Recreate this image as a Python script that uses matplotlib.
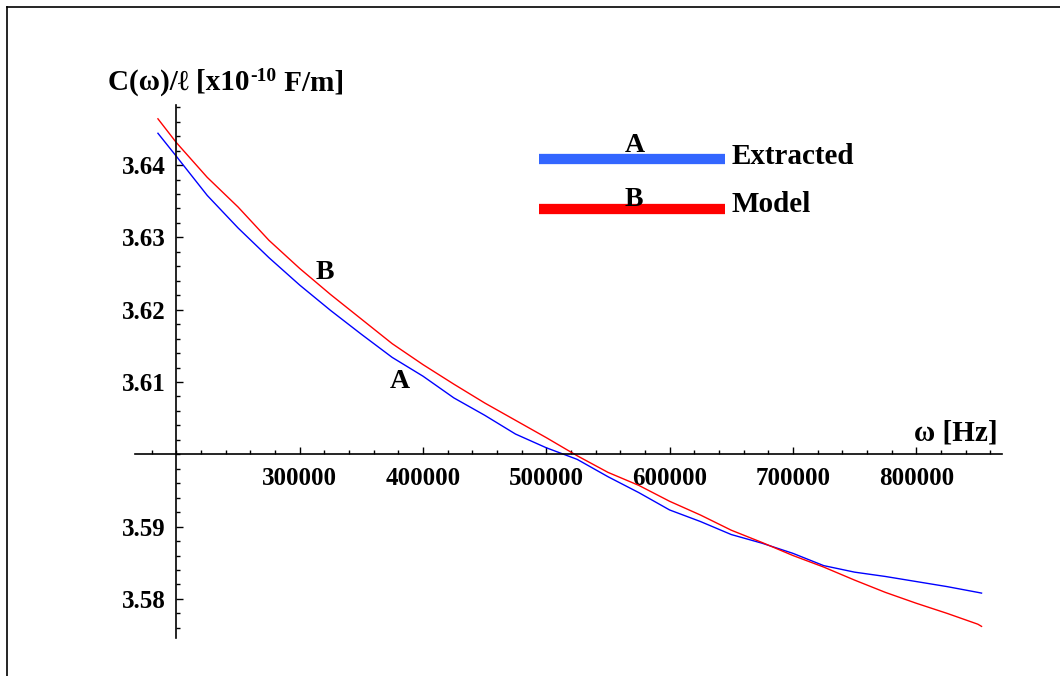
import matplotlib
matplotlib.use("Agg")
import matplotlib.pyplot as plt
from matplotlib.ticker import FixedLocator, MultipleLocator
from matplotlib.lines import Line2D

plt.rcParams['font.family'] = ['Liberation Serif', 'DejaVu Serif']
plt.rcParams['font.weight'] = 'bold'

# frequency [Hz]
omega = [185000, 200000, 225000, 250000, 275000, 300000, 325000, 350000,
         375000, 400000, 425000, 450000, 475000, 500000, 525000, 550000,
         575000, 600000, 625000, 650000, 675000, 700000, 725000, 750000,
         775000, 800000, 825000, 850000, 853000]

# extracted capacitance per length [x1e-10 F/m]
extracted = [3.6444, 3.6412, 3.6358, 3.6313, 3.6272, 3.6234, 3.6199, 3.6166,
             3.6134, 3.6108, 3.6078, 3.6054, 3.6028, 3.6009, 3.5993, 3.5969,
             3.5947, 3.5923, 3.5907, 3.5889, 3.5877, 3.5863, 3.5846, 3.5837,
             3.5831, 3.5824, 3.5817, 3.5809, 3.5808]

# model capacitance per length [x1e-10 F/m]
model = [3.6464, 3.6431, 3.6383, 3.6342, 3.6296, 3.6257, 3.6221, 3.6187,
         3.6153, 3.6124, 3.6097, 3.6071, 3.6047, 3.6023, 3.5998, 3.5975,
         3.5957, 3.5935, 3.5916, 3.5895, 3.5878, 3.5860, 3.5844, 3.5826,
         3.5809, 3.5794, 3.5780, 3.5765, 3.5762]

x_major = [300000, 400000, 500000, 600000, 700000, 800000]
y_major = [3.58, 3.59, 3.61, 3.62, 3.63, 3.64]

W, H = 1060, 676
fig = plt.figure(figsize=(W / 100, H / 100), dpi=100)
ax = fig.add_axes([135 / W, 1 - 638 / H, (1002 - 135) / W, (638 - 105) / H])

ax.plot(omega, extracted, color='#0000ff', lw=1.0)
ax.plot(omega, model, color='#ff0000', lw=1.0)

ax.set_xlim(166400, 869600)
ax.set_ylim(3.57459, 3.64831)

ax.spines['top'].set_visible(False)
ax.spines['right'].set_visible(False)
ax.spines['left'].set_position(('data', 200000))
ax.spines['bottom'].set_position(('data', 3.60))
for s in ('left', 'bottom'):
    ax.spines[s].set_linewidth(1.2)

ax.xaxis.set_major_locator(FixedLocator(x_major))
ax.xaxis.set_minor_locator(MultipleLocator(20000))
ax.yaxis.set_major_locator(FixedLocator(y_major))
ax.yaxis.set_minor_locator(MultipleLocator(0.002))
ax.set_xticklabels([str(v) for v in x_major])
ax.set_yticklabels(['%.2f' % v for v in y_major])

ax.tick_params(which='both', direction='in', width=1.0)
ax.tick_params(which='major', length=5)
ax.tick_params(which='minor', length=3)
ax.tick_params(axis='x', which='major', pad=9, labelsize=18)
ax.tick_params(axis='y', which='major', pad=8, labelsize=18)
for t in ax.get_xticklabels() + ax.get_yticklabels():
    t.set_fontweight('bold')

# curve labels
ax.text(320500, 3.6252, 'B', fontsize=20, fontweight='bold', ha='center', va='center')
ax.text(381300, 3.6101, 'A', fontsize=20, fontweight='bold', ha='center', va='center')

# y axis label, built in pieces so the exponent keeps a plain hyphen
renderer = fig.canvas.get_renderer()
x0, y0 = 108 / W, 1 - 90 / H
t1 = fig.text(x0, y0, 'C(ω)/ℓ [x10', fontsize=21, fontweight='bold',
              ha='left', va='baseline')
x1 = fig.transFigure.inverted().transform(
    (t1.get_window_extent(renderer).x1, 0))[0]
t2 = fig.text(x1 + 1 / W, y0 + 9 / H, '-10', fontsize=14, fontweight='bold',
              ha='left', va='baseline')
x2 = fig.transFigure.inverted().transform(
    (t2.get_window_extent(renderer).x1, 0))[0]
fig.text(x2, y0, ' F/m]', fontsize=21, fontweight='bold',
         ha='left', va='baseline')

fig.text(998 / W, 1 - 441 / H, 'ω [Hz]', fontsize=21, fontweight='bold',
         ha='right', va='baseline')

# legend
fig.add_artist(Line2D([539 / W, 725 / W], [1 - 158.5 / H] * 2, lw=7.4,
                      color='#3366ff', solid_capstyle='butt'))
fig.add_artist(Line2D([539 / W, 725 / W], [1 - 209 / H] * 2, lw=7.4,
                      color='#ff0000', solid_capstyle='butt'))
fig.text(635 / W, 1 - 152 / H, 'A', fontsize=20, fontweight='bold', ha='center', va='baseline')
fig.text(634 / W, 1 - 206 / H, 'B', fontsize=20, fontweight='bold', ha='center', va='baseline')
fig.text(732 / W, 1 - 164 / H, 'Extracted', fontsize=21, fontweight='bold', ha='left', va='baseline')
fig.text(732 / W, 1 - 212 / H, 'Model', fontsize=21, fontweight='bold', ha='left', va='baseline')

# outer frame (top and left edges)
fig.add_artist(Line2D([7 / W, 1], [1 - 7 / H] * 2, lw=1.2, color='black'))
fig.add_artist(Line2D([7 / W, 7 / W], [0, 1 - 7 / H], lw=1.2, color='black'))

fig.savefig('out.png', dpi=100)
